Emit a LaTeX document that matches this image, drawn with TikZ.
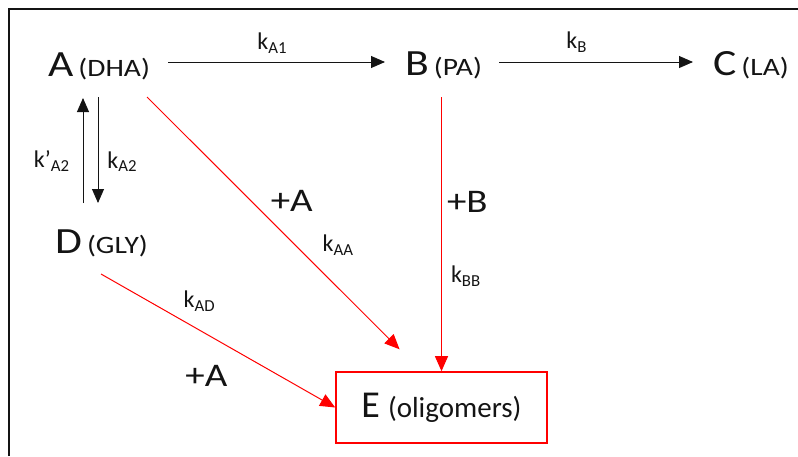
\documentclass[tikz,border=0pt]{standalone}
\usepackage{fontspec}
\setmainfont{Carlito}
\newfontfamily\widefont[FakeStretch=1.18]{Carlito}
\usetikzlibrary{arrows.meta,positioning}
\definecolor{rxred}{RGB}{255,0,0}
\definecolor{rxink}{RGB}{20,20,20}
\newcommand{\speciesname}[2]{\widefont{\fontsize{37}{40}\selectfont #1}\hspace{5pt}{\fontsize{25}{28}\selectfont(#2)}}
\newcommand{\kk}[1]{k\textsubscript{#1}}
\tikzset{
    species/.style={inner sep=0pt,anchor=base west,text=rxink},
    product/.style={
        draw=rxred,line width=1.6pt,minimum width=211pt,minimum height=71pt,
        inner sep=0pt,text=rxink
    },
    rate/.style={inner sep=0pt,font=\fontsize{24}{26}\selectfont,text=rxink},
    plus/.style={inner sep=0pt,font=\widefont\fontsize{33}{36}\selectfont,text=rxink},
    arrow/.style={-{Triangle[length=14pt,width=12pt]},line width=0.9pt,draw=rxink},
    redarrow/.style={-{Triangle[length=15pt,width=13pt]},line width=1pt,draw=rxred}
}
\begin{document}
\begin{tikzpicture}[x=1pt,y=-1pt]
\useasboundingbox (0,0) rectangle (798,456);
% frame, cut off at the right and bottom edge
\draw[line width=2pt,rxink] (8.5,456) -- (8.5,8.5) -- (798,8.5);

% species
\node[species] (A) at (48,76) {\speciesname{A}{DHA}};
\node[species] (B) at (405,75) {\speciesname{B}{PA}};
\node[species] (C) at (713,75) {\speciesname{C}{LA}};
\node[species] (D) at (55,253) {\speciesname{D}{GLY}};
\node[product] (E) at (441.5,407.5)
{{\fontsize{38}{40}\selectfont E}\hspace{8pt}{\fontsize{29}{32}\selectfont(oligomers)}};

% first order steps
\draw[arrow] ([xshift=18pt,yshift=14pt]A.base east) -- ([xshift=-20pt,yshift=13pt]B.base west)
    node[rate,pos=0.48,above=8pt] (kA1) {\kk{A1}};
\draw[arrow] ([xshift=17pt,yshift=13pt]B.base east) -- ([xshift=-20pt,yshift=13pt]C.base west)
    node[rate,pos=0.4,above=9pt] (kB) {\kk{B}};
\draw[arrow] ([xshift=28pt,yshift=50pt]D.base west) -- ([xshift=35pt,yshift=-22pt]A.base west)
    node[rate,pos=0.4,left=13pt] (kA2r) {k’\textsubscript{A2}};
\draw[arrow] ([xshift=50pt,yshift=-21pt]A.base west) -- ([xshift=43pt,yshift=50pt]D.base west)
    node[rate,pos=0.61,right=9pt] (kA2) {\kk{A2}};

% oligomerisation
\draw[redarrow,shorten >=31pt] ([xshift=99pt,yshift=-21pt]A.base west) -- ([xshift=-20pt]E.north)
    node[plus,pos=0.38,right=19pt] (pA) {+A}
    node[rate,pos=0.54,right=27pt] (kAA) {\kk{AA}};
\draw[redarrow,shorten <=22pt] (E.north |- B.base) -- (E.north)
    node[plus,pos=0.43,right=5pt] (pB) {+B}
    node[rate,pos=0.68,right=9pt] (kBB) {\kk{BB}};
\draw[redarrow] ([xshift=46pt,yshift=-21pt]D.base west) -- (E.west)
    node[rate,pos=0.42,above=18pt] (kAD) {\kk{AD}}
    node[plus,pos=0.45,below=31pt] (pD) {+A};

\end{tikzpicture}
\end{document}
